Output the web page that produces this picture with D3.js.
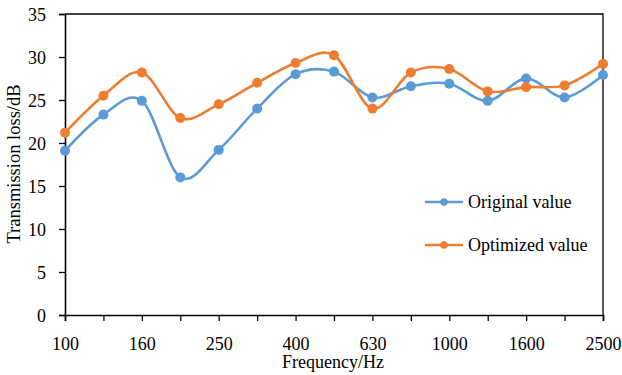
<!DOCTYPE html>
<html>
<head>
<meta charset="utf-8">
<script src="https://cdn.jsdelivr.net/npm/d3@7"></script>
<style>
  html, body { margin: 0; padding: 0; background: #fff; }
  svg { display: block; font-family: "Liberation Serif", "Times New Roman", serif; }
</style>
</head>
<body>
<svg id="chart" width="622" height="375"></svg>
<script>
// Frequency bands (Hz) and transmission loss (dB)
const frequencies = ["100", "125", "160", "200", "250", "315", "400", "500", "630", "800", "1000", "1250", "1600", "2000", "2500"];
const originalValues = [19.1, 23.3, 24.9, 16.0, 19.2, 24.0, 28.0, 28.3, 25.3, 26.6, 26.9, 24.9, 27.5, 25.3, 27.9];
const optimizedValues = [21.2, 25.5, 28.2, 22.9, 24.5, 27.0, 29.3, 30.2, 24.0, 28.2, 28.6, 26.0, 26.5, 26.7, 29.2];
const xTickLabels = ["100", "160", "250", "400", "630", "1000", "1600", "2500"];
const yTicks = [0, 5, 10, 15, 20, 25, 30, 35];
const seriesNames = ["Original value", "Optimized value"];
const seriesColors = ["#5B9BD5", "#ED7D31"];

const svg = d3.select("#chart");
const plotLeft = 65, plotRight = 603, plotTop = 14, plotBottom = 315;

const x = d3.scalePoint().domain(frequencies).range([plotLeft, plotRight]);
const y = d3.scaleLinear().domain([0, 35]).range([plotBottom, plotTop]);

// frame (top and right edges)
svg.append("path")
  .attr("d", `M${plotLeft},${plotTop}H${plotRight}V${plotBottom}`)
  .attr("fill", "none").attr("stroke", "#000").attr("stroke-width", 1.3);

// x axis
const xAxis = svg.append("g")
  .attr("transform", `translate(0,${plotBottom})`)
  .call(d3.axisBottom(x).tickSize(6).tickPadding(16)
    .tickFormat(d => xTickLabels.includes(d) ? d : ""));
// y axis
const yAxis = svg.append("g")
  .attr("transform", `translate(${plotLeft},0)`)
  .call(d3.axisLeft(y).tickValues(yTicks).tickSize(6).tickPadding(13));

[xAxis, yAxis].forEach(g => {
  g.select(".domain").attr("stroke", "#000").attr("stroke-width", 1.6);
  g.selectAll(".tick line").attr("stroke", "#000").attr("stroke-width", 1.3);
  g.selectAll(".tick text").attr("fill", "#000")
    .style("font-family", "'Liberation Serif', serif").style("font-size", "18px");
});
yAxis.selectAll(".tick text").attr("dy", "0.34em");

// axis titles
svg.append("text")
  .attr("x", 333).attr("y", 368)
  .attr("text-anchor", "middle")
  .style("font-size", "18px").text("Frequency/Hz");
svg.append("text")
  .attr("transform", `translate(20,164) rotate(-90)`)
  .attr("text-anchor", "middle")
  .style("font-size", "18.5px").text("Transmission loss/dB");

// smoothed series lines with markers
const line = d3.line()
  .x((d, i) => x(frequencies[i]))
  .y(d => y(d))
  .curve(d3.curveCatmullRom.alpha(0));

[originalValues, optimizedValues].forEach((vals, s) => {
  svg.append("path")
    .datum(vals)
    .attr("d", line)
    .attr("fill", "none")
    .attr("stroke", seriesColors[s])
    .attr("stroke-width", 2.6);
  svg.append("g").selectAll("circle")
    .data(vals).join("circle")
    .attr("cx", (d, i) => x(frequencies[i]))
    .attr("cy", d => y(d))
    .attr("r", 5)
    .attr("fill", seriesColors[s]);
});

// legend
const legend = svg.append("g");
seriesNames.forEach((name, s) => {
  const ly = 202 + s * 43;
  legend.append("line")
    .attr("x1", 425).attr("x2", 463).attr("y1", ly).attr("y2", ly)
    .attr("stroke", seriesColors[s]).attr("stroke-width", 2.6);
  legend.append("circle")
    .attr("cx", 444).attr("cy", ly).attr("r", 3.8)
    .attr("fill", seriesColors[s]);
  legend.append("text")
    .attr("x", 468).attr("y", ly).attr("dy", "0.33em")
    .style("font-size", "18px").text(name);
});
</script>
</body>
</html>
